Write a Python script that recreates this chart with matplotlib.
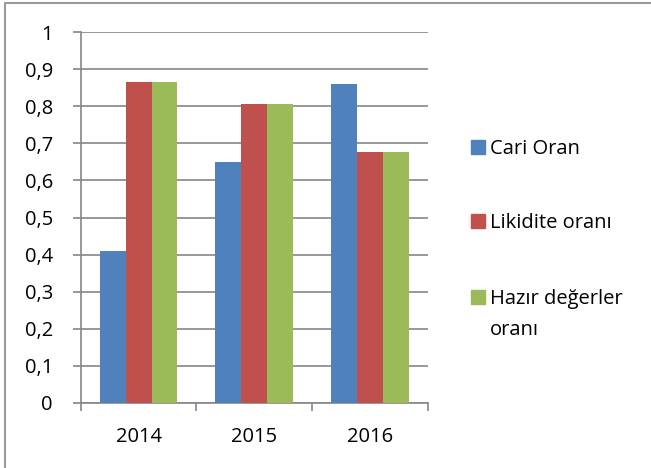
import matplotlib.pyplot as plt
from matplotlib.lines import Line2D
import numpy as np

# data
years = ["2014", "2015", "2016"]
cari_oran = [0.41, 0.65, 0.86]
likidite_orani = [0.865, 0.805, 0.677]
hazir_degerler = [0.865, 0.805, 0.677]

series = [cari_oran, likidite_orani, hazir_degerler]
labels = ["Cari Oran", "Likidite oranı", "Hazır değerler\noranı"]
colors = ["#4f81bd", "#c0504d", "#9bbb59"]
y_ticks = [0, 0.1, 0.2, 0.3, 0.4, 0.5, 0.6, 0.7, 0.8, 0.9, 1]
y_labels = ["0", "0,1", "0,2", "0,3", "0,4", "0,5", "0,6", "0,7", "0,8", "0,9", "1"]

plt.rcParams['font.family'] = ['Open Sans', 'DejaVu Sans']
W, H = 651, 468
FS = 14.5

fig = plt.figure(figsize=(W / 100, H / 100), dpi=100)
ax = fig.add_axes([80.7 / W, 1 - 403 / H, (428 - 80.7) / W, (403 - 32) / H])

# bars
x = np.arange(len(years))
w = 0.224
for i, (vals, col) in enumerate(zip(series, colors)):
    ax.bar(x + (i - 1) * w, vals, w, color=col, zorder=3)

# Oy
ax.set_ylim(0, 1)
ax.set_yticks(y_ticks)
ax.set_yticklabels(y_labels)
ax.yaxis.grid(True, color="#868686", linewidth=1.2, zorder=0)

# Ox
ax.set_xlim(-0.5, 2.5)
ax.set_xticks(x)
ax.set_xticklabels(years)
ax.set_xticks([-0.5, 0.5, 1.5, 2.5], minor=True)
ax.tick_params(axis="x", which="major", length=0, pad=17)
ax.tick_params(axis="x", which="minor", length=6, color="#868686", width=1.2)
ax.tick_params(axis="y", length=6, color="#868686", width=1.2, pad=14)
ax.tick_params(labelsize=FS)

for s in ["top", "right"]:
    ax.spines[s].set_visible(False)
for s in ["left", "bottom"]:
    ax.spines[s].set_color("#868686")
    ax.spines[s].set_linewidth(1.2)

# legend (drawn by hand so the square lines up with the first text line)
legend_y = [147, 221, 297]
for lab, col, ly in zip(labels, colors, legend_y):
    fig.patches.append(plt.Rectangle((471 / W, 1 - (ly + 7) / H), 14 / W, 14 / H,
                                     transform=fig.transFigure, color=col))
    fig.text(490 / W, 1 - (ly - 8) / H, lab, fontsize=FS, va="top", ha="left",
             linespacing=1.75)

# border (top and left only)
fig.add_artist(Line2D([4.5 / W, 4.5 / W, 1], [0, 1 - 2.5 / H, 1 - 2.5 / H],
                      transform=fig.transFigure, color="#9a9a9a", linewidth=1.5))

plt.savefig("out.png", dpi=100)
